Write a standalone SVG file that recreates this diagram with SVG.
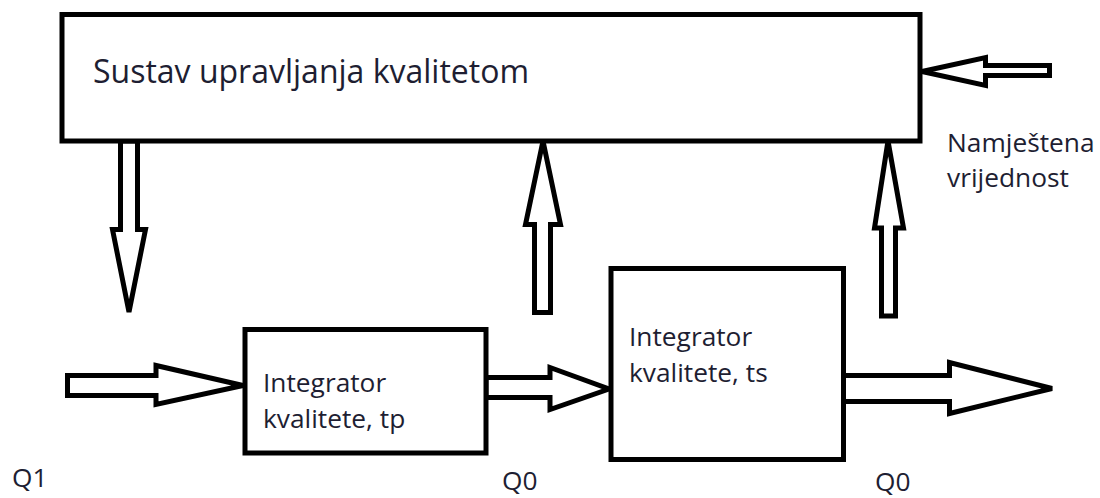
<svg xmlns="http://www.w3.org/2000/svg" width="1100" height="498" viewBox="0 0 1100 498">
<style>
.box{fill:#fff;stroke:#000;stroke-width:5}
.arr{fill:#fff;stroke:#000;stroke-width:5;stroke-linejoin:miter}
.t{font-family:"Open Sans","Liberation Sans",sans-serif;fill:#1e1e32}
.big{font-size:32px}
.sm{font-size:26.3px}
</style>
<rect width="1100" height="498" fill="#fff"/>
<g id="connectors">
<polygon class="arr" points="120.5,141 120.5,229.5 112.5,229.5 129,312 145.5,229.5 137.5,229.5 137.5,141"/>
<polygon class="arr" points="534.5,312.5 534.5,224.5 525.5,224.5 543,141 560.5,224.5 550.5,224.5 550.5,312.5"/>
<polygon class="arr" points="881.5,316 881.5,228 874.5,228 888,141 903.5,228 895.5,228 895.5,316"/>
<polygon class="arr" points="1049.5,65.5 985.5,65.5 985.5,57.5 922,71.5 985.5,85.5 985.5,75.5 1049.5,75.5"/>
<polygon class="arr" points="67.5,375.5 156,375.5 156,365.5 243,385.5 156,404.5 156,395.5 67.5,395.5"/>
<polygon class="arr" points="486,377.5 550,377.5 550,367.5 609,389 550,409.5 550,397.5 486,397.5"/>
<polygon class="arr" points="843.5,375.5 949.5,375.5 949.5,362.5 1052,388.5 949.5,413.5 949.5,401.5 843.5,401.5"/>
</g>
<g id="sustav">
<rect class="box" x="62" y="14.5" width="858" height="126.5"/>
<text class="t big" x="93" y="83">Sustav upravljanja kvalitetom</text>
</g>
<g id="integrator-tp">
<rect class="box" x="245" y="329.5" width="241" height="123.5"/>
<text class="t sm" x="263" y="392">Integrator</text>
<text class="t sm" x="263" y="428">kvalitete, tp</text>
</g>
<g id="integrator-ts">
<rect class="box" x="611" y="268.5" width="232.5" height="191"/>
<text class="t sm" x="629" y="346">Integrator</text>
<text class="t sm" x="629" y="382">kvalitete, ts</text>
</g>
<g id="labels">
<text class="t sm" x="947" y="152">Namještena</text>
<text class="t sm" x="947" y="187">vrijednost</text>
<text class="t sm" x="12" y="487">Q1</text>
<text class="t sm" x="502" y="490">Q0</text>
<text class="t sm" x="875" y="491">Q0</text>
</g>
</svg>
